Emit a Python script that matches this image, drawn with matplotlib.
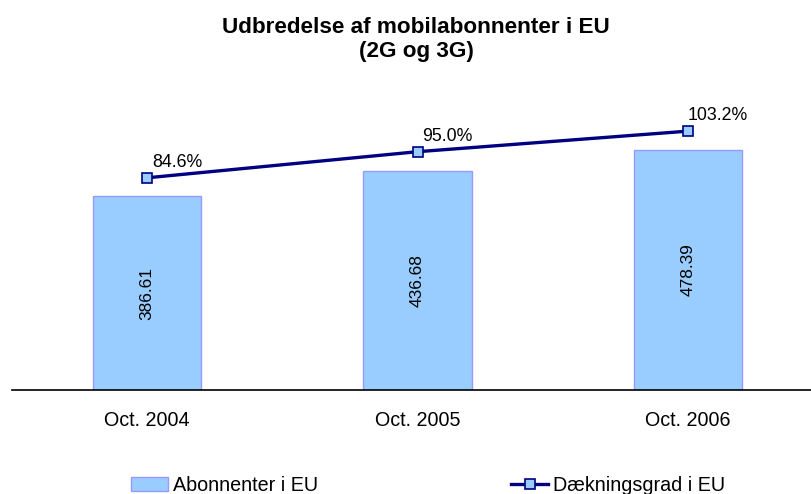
import matplotlib.pyplot as plt

plt.rcParams['font.family'] = ['Liberation Sans', 'DejaVu Sans']

categories = ['Oct. 2004', 'Oct. 2005', 'Oct. 2006']
abonnenter = [386.61, 436.68, 478.39]
daekning = [84.6, 95.0, 103.2]

fig = plt.figure(figsize=(8.11, 4.94), dpi=100)
ax = fig.add_axes([12 / 811, 1 - 390 / 494, 1.0, 301 / 494])
x = range(len(categories))

bars = ax.bar(x, abonnenter, width=0.4, color='#99CCFF', edgecolor='#9999FF',
              linewidth=1, label='Abonnenter i EU')
for i, v in enumerate(abonnenter):
    ax.text(i, v / 2, f'{v:.2f}', rotation=90, ha='center', va='center', fontsize=12.4)

ax.set_xlim(-0.5, 2.5)
ax.set_ylim(0, 600)
ax.set_xticks(list(x))
ax.set_xticklabels(categories, fontsize=14.2)
ax.tick_params(axis='x', length=0, pad=15)
ax.set_yticks([])
for s in ['top', 'right', 'left']:
    ax.spines[s].set_visible(False)
ax.spines['bottom'].set_linewidth(1.2)

ax2 = ax.twinx()
line, = ax2.plot(x, daekning, color='#000080', linewidth=2.4, marker='s',
                 markersize=7, markerfacecolor='#99CCFF', markeredgecolor='#000080',
                 markeredgewidth=1.2, label='Dækningsgrad i EU')
ax2.set_ylim(0, 120)
ax2.set_yticks([])
for s in ['top', 'right', 'left', 'bottom']:
    ax2.spines[s].set_visible(False)
for i, v in enumerate(daekning):
    ax2.annotate(f'{v:.1f}%', (i, v), xytext=(21.5, 11), textcoords='offset points',
                 ha='center', va='center', fontsize=12.8)

fig.text(0.513, 0.966, 'Udbredelse af mobilabonnenter i EU\n(2G og 3G)',
         ha='center', va='top', fontsize=16.2, fontweight='bold', linespacing=1.2)

fig.legend(handles=[bars], loc='center left', bbox_to_anchor=(131 / 811, 1 - 485 / 494),
           frameon=False, fontsize=14.2, borderpad=0, borderaxespad=0,
           handlelength=1.9, handleheight=0.7, handletextpad=0.25)
fig.legend(handles=[line], loc='center left', bbox_to_anchor=(511 / 811, 1 - 485 / 494),
           frameon=False, fontsize=14.2, borderpad=0, borderaxespad=0,
           handlelength=1.9, handletextpad=0.25)

fig.savefig('out.png', dpi=100)
